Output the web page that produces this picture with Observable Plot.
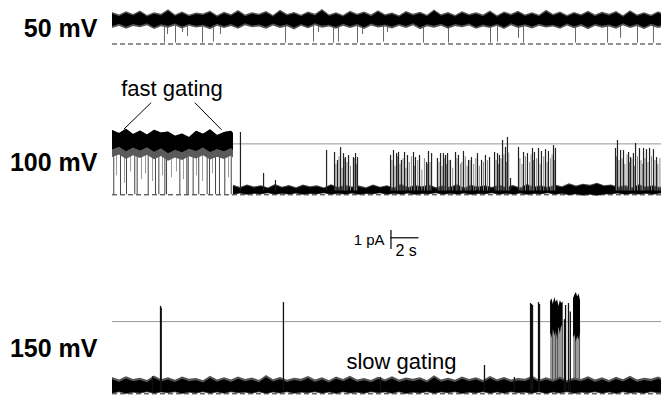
<!DOCTYPE html>
<html><head><meta charset="utf-8">
<script src="https://cdn.jsdelivr.net/npm/d3@7"></script>
<script src="https://cdn.jsdelivr.net/npm/@observablehq/plot@0.6"></script>
<style>
html,body{margin:0;padding:0;background:#fff;overflow:hidden;}
#chart{width:661px;height:397px;overflow:hidden;}
#chart svg{display:block;overflow:hidden;}
</style></head><body><div id="chart"></div>
<script>
// ===== DATA (time in s, current in pA) =====
const voltageLabels = ["50 mV", "100 mV", "150 mV"];
const openLevel100 = 2.68, openLevel150 = 3.8;

// 50 mV: open-state noise band edges (every 0.5 s from 0 s), closures
const band50Hi = [1.58,1.44,1.62,1.47,1.66,1.42,1.57,1.48,1.72,1.45,1.60,1.43,1.55,1.50,1.64,1.41,1.59,1.46,1.68,1.44,
 1.56,1.49,1.63,1.42,1.70,1.47,1.58,1.43,1.61,1.48,1.74,1.45,1.57,1.42,1.65,1.49,1.60,1.44,1.67,1.46,
 1.55,1.41,1.63,1.48,1.59,1.43,1.71,1.46,1.58,1.42,1.62,1.47,1.56,1.44,1.66,1.41,1.60,1.48,1.64,1.45,
 1.57,1.43,1.69,1.47,1.61,1.42,1.58,1.46,1.65,1.44,1.59,1.48,1.63,1.41,1.67,1.45,1.56,1.43,1.62,1.47];
const band50Lo = [0.92,1.04,0.88,1.02,0.95,1.06,0.86,1.01,0.93,1.05,0.89,1.03,0.94,0.99,0.85,1.04,0.91,1.02,0.87,1.06,
 0.95,1.00,0.88,1.05,0.92,1.01,0.84,1.03,0.90,1.06,0.93,0.99,0.87,1.04,0.91,1.02,0.86,1.05,0.94,1.00,
 0.89,1.03,0.92,1.06,0.85,1.01,0.93,1.04,0.88,1.02,0.95,1.05,0.87,1.00,0.91,1.03,0.86,1.06,0.92,1.01,
 0.89,1.04,0.94,0.99,0.87,1.05,0.90,1.02,0.85,1.03,0.93,1.00,0.88,1.06,0.91,1.02,0.86,1.04,0.92,1.01];
const closure50T = [3.71,3.93,4.5,5.0,5.36,6.43,7.21,7.71,12.36,14.36,14.71,15.79,16.14,17.5,17.86,19.36,19.64,22.21,24.0,27.0,27.5,29.0,29.36,33.07,35.36,36.29,37.5,38.64];
const closure50Min = [0.05,0.5,0.05,0.6,0.4,0.05,0.1,0.5,0.05,0.1,0.6,0.05,0.1,0.05,0.5,0.1,0.6,0.05,0.05,0.05,0.1,0.3,0.05,0.05,0.05,0.3,0.05,0.05];

// 100 mV: fast gating band (0 - 8.64 s), then mostly closed band with bursts
const fastEnd100 = 8.64;
const fastBand100Hi = [3.38,3.22,3.45,3.18,3.36,3.15,3.40,3.25,3.30,3.08,3.20,3.02,3.34,3.19,3.42,3.12,3.28,3.35,3.22];
const fastBand100Lo = [2.36,2.50,2.26,2.46,2.31,2.48,2.24,2.42,2.16,2.34,2.21,2.40,2.28,2.46,2.23,2.38,2.26,2.44,2.32];
const fullClosure100T = [0.09,0.57,1.0,1.59,1.76,2.55,3.07,3.31,3.74,3.86,4.81,5.31,5.41,5.76,6.16,6.76,6.93,7.36,7.64,8.02,8.48];
const partialClosure100T = [0.29,0.86,1.29,2.07,2.36,2.86,3.57,4.21,4.57,5.07,6.0,6.43,7.14,8.29];
const partialClosure100Min = [1.0,0.6,1.2,0.8,1.1,0.7,1.0,0.9,1.2,0.8,1.0,0.7,1.1,0.9];
const closedBand100Hi = [0.44,0.32,0.46,0.35,0.42,0.30,0.48,0.34,0.43,0.31,0.45,0.36,0.41,0.30,0.47,0.33,0.44,0.35,0.40,0.31,
 0.46,0.34,0.42,0.30,0.49,0.33,0.43,0.36,0.45,0.31,0.41,0.34,0.47,0.30,0.44,0.35,0.42,0.32,0.46,0.33,
 0.43,0.30,0.48,0.35,0.41,0.33,0.45,0.36,0.52,0.40,0.50,0.44,0.55,0.42,0.46,0.34,0.43,0.31,0.47,0.35,0.42,0.33,0.45];
const closedBand100Lo = [0.02,0.07,0.00,0.06,0.03,0.08,0.01,0.06,0.02,0.07,0.00,0.05,0.03,0.08,0.01,0.06,0.02,0.07,0.00,0.05,
 0.03,0.08,0.01,0.06,0.02,0.07,0.00,0.05,0.03,0.08,0.01,0.06,0.02,0.07,0.00,0.05,0.03,0.08,0.01,0.06,
 0.02,0.07,0.00,0.05,0.03,0.08,0.01,0.06,-0.02,0.03,-0.04,0.01,-0.05,0.02,0.03,0.07,0.00,0.05,0.02,0.06,0.01,0.07,0.03];
const opening100T = [9.14,10.79,11.64,15.29, 15.86,16.07,16.29,16.5,16.64,16.86,17.21,17.36,17.5,
 19.86,20.07,20.29,20.43,20.64,20.86,21.07,21.5,21.64,21.93,22.43,22.57,22.79,
 23.21,23.43,23.64,23.79,23.93,24.14,24.5,24.71,25.07,25.43,25.64,26.07,26.36,26.64,26.93,
 27.29,27.5,27.64,27.86,28.07,28.21,28.43, 29.0,29.36,29.64,30.0,30.14,30.43,30.64,30.93,31.14,31.5,31.64,
 35.93,36.07,36.29,36.5,36.86,37.0,37.21,37.36,37.64,37.93,38.14,38.36,38.64,38.86];
const opening100Peak = [3.28,1.12,0.75,2.33, 2.23,1.81,2.49,2.17,1.96,2.07,1.96,2.17,1.96,
 2.07,2.33,2.17,2.23,1.81,2.23,2.07,2.23,1.96,2.07,1.7,2.28,2.17,
 1.91,2.17,2.17,2.07,2.17,1.81,2.23,2.07,2.28,1.81,1.96,2.17,1.81,2.07,1.96,
 2.23,2.17,2.07,2.86,2.49,3.02,0.86, 2.49,2.23,2.17,2.44,2.23,2.44,2.28,2.38,2.28,2.59,2.44,
 2.44,2.86,2.33,2.33,2.23,1.96,2.17,2.7,2.44,2.44,2.38,2.44,2.38,1.96];
// fainter (briefer) openings inside the bursts
const brief100T = [15.96,16.18,16.4,16.57,16.75,17.0,17.28,17.43,
 19.96,20.18,20.36,20.54,20.75,20.96,21.2,21.35,21.57,21.8,22.1,22.28,22.5,22.68,
 23.32,23.54,23.7,23.86,24.04,24.3,24.6,24.85,24.95,25.2,25.33,25.54,25.8,25.95,26.2,26.5,26.78,
 27.4,27.57,27.75,27.96,28.14,28.3,29.1,29.25,29.5,29.8,29.9,30.07,30.3,30.55,30.8,31.05,31.3,31.4,31.57,
 36.0,36.18,36.4,36.6,36.75,36.93,37.1,37.28,37.5,37.75,37.85,38.03,38.25,38.5,38.75,38.95,39.1];
const brief100Peak = [1.6,2.0,1.4,1.9,1.7,1.5,1.9,1.6,
 1.8,1.5,2.0,1.6,1.9,1.4,1.7,2.0,1.5,1.8,1.3,1.9,1.6,1.7,
 1.7,1.5,1.9,1.6,1.8,1.4,1.9,1.6,1.7,2.0,1.5,1.8,1.6,1.9,1.5,1.7,1.8,
 1.8,1.6,1.9,2.1,1.7,2.2,1.9,1.6,2.0,1.7,2.1,1.8,1.9,1.6,2.0,1.7,1.9,2.1,1.8,
 2.0,1.8,1.9,1.6,2.1,1.7,1.9,1.5,2.0,1.8,1.6,1.9,1.7,2.0,1.8,1.6,1.9];

// 150 mV: closed-state band, brief openings, slow-gating burst
const band150Hi = [0.74,0.60,0.78,0.63,0.70,0.58,0.82,0.62,0.72,0.59,0.76,0.64,0.69,0.57,0.80,0.61,0.73,0.60,0.77,0.63,
 0.71,0.58,0.84,0.62,0.74,0.59,0.70,0.64,0.79,0.60,0.72,0.57,0.76,0.63,0.81,0.61,0.69,0.58,0.75,0.62,
 0.78,0.60,0.71,0.64,0.73,0.57,0.83,0.61,0.70,0.59,0.77,0.63,0.72,0.58,0.79,0.62,0.74,0.60,0.68,0.64,
 0.80,0.59,0.73,0.61,0.76,0.57,0.71,0.63,0.78,0.60,0.72,0.58,0.75,0.62,0.81,0.60,0.70,0.64,0.77,0.61];
const band150Lo = [0.02,0.09,0.00,0.07,0.03,0.10,0.01,0.08,0.04,0.09,0.00,0.07,0.03,0.10,0.02,0.08,0.01,0.09,0.04,0.07,
 0.02,0.10,0.00,0.08,0.03,0.09,0.01,0.07,0.04,0.10,0.02,0.08,0.00,0.09,0.03,0.07,0.01,0.10,0.04,0.08,
 0.02,0.09,0.00,0.07,0.03,0.10,0.01,0.08,0.04,0.09,0.00,0.07,0.03,0.10,0.02,0.08,0.01,0.09,0.04,0.07,
 0.02,0.10,0.00,0.08,0.03,0.09,0.01,0.07,0.04,0.10,0.02,0.08,0.00,0.09,0.03,0.07,0.01,0.10,0.04,0.08];
const opening150T = [2.86,3.43,3.48,12.21,19.14,26.57,28.71,29.86,29.93,30.0,30.43,30.5,32.28,32.36,32.57,32.7];
const opening150Peak = [0.9,4.6,4.5,4.8,0.86,1.49,0.86,4.75,4.7,4.65,4.8,4.7,3.9,4.65,4.75,4.3];
// burst segments: start time, then band edges every 0.1 s
const burst150Start = [31.29, 32.93];
const burst150Hi = [[4.85,5.0,4.7,5.07,4.8,4.95,4.6,4.9,4.75,4.85], [5.0,5.2,5.33,5.1,5.25,4.9]];
const burst150Lo = [[3.2,2.9,3.4,3.0,3.3,2.8,3.5,3.1,3.6,3.3], [2.9,3.1,2.7,3.0,2.8,3.2]];
const burstClosure150T = [31.43,31.64,31.79,32.14,33.07,33.36];

// scale bar
const scaleBarSeconds = 2, scaleBarPA = 1;

// ===== LAYOUT =====
const W = 661, T0 = -8, T1 = 39.214, PX_PER_PA = 19;
const FONT = "'Liberation Sans', Arial, Helvetica, sans-serif";

function band(start, step, end, hi, lo) {
  return hi.map((h, i) => ({t: Math.min(start + i * step, end), hi: h, lo: lo[i]}));
}
function panel(height, zeroFromTop, marks) {
  return Plot.plot({
    width: W, height, margin: 0,
    x: {domain: [T0, T1], axis: null},
    y: {domain: [(zeroFromTop - height) / PX_PER_PA, zeroFromTop / PX_PER_PA], axis: null},
    style: {fontFamily: FONT, background: "white", color: "black"},
    marks
  });
}
const baseline = () => Plot.ruleY([0], {x1: 0, x2: T1, stroke: "#222", strokeDasharray: "5,3"});
const openLine = (v) => Plot.ruleY([v], {x1: 0, x2: T1, stroke: "#999", strokeWidth: 1});
const label = (s, v) => Plot.text([{t: -1.07, v, s}], {x: "t", y: "v", text: "s", textAnchor: "end",
  lineAnchor: "middle", fontSize: 25, fontWeight: "bold", fill: "#000"});
const fringe = (data, up, down, fill) => Plot.area(data, {x1: "t", y1: d => d.lo - down, y2: d => d.hi + up, fill});
const core = (data) => Plot.area(data, {x1: "t", y1: "lo", y2: "hi", fill: "#000"});

// ----- 50 mV -----
const b50 = band(0, 0.5, 39.5, band50Hi, band50Lo);
const c50 = closure50T.map((t, i) => ({t, min: closure50Min[i]}));
const p1 = panel(52, 43.5, [
  baseline(),
  Plot.ruleX(c50, {x: "t", y1: "min", y2: 1.2, stroke: "#666"}),
  fringe(b50, 0.08, 0.1, "#555"),
  core(b50),
  label(voltageLabels[0], 0.79)
]);

// ----- 100 mV -----
const fast = band(0, 0.5, fastEnd100, fastBand100Hi, fastBand100Lo);
const closed = band(fastEnd100, 0.5, 39.5, closedBand100Hi, closedBand100Lo);
const full = fullClosure100T.map(t => ({t}));
const part = partialClosure100T.map((t, i) => ({t, min: partialClosure100Min[i]}));
const op100 = opening100T.map((t, i) => ({t, peak: opening100Peak[i]}));
const br100 = brief100T.map((t, i) => ({t, peak: brief100Peak[i]}));
const p2 = panel(160, 142.3, [
  baseline(),
  openLine(openLevel100),
  Plot.ruleX(full, {x: "t", y1: 0, y2: openLevel100, stroke: "#444"}),
  Plot.ruleX(part, {x: "t", y1: "min", y2: openLevel100, stroke: "#999"}),
  fringe(fast, 0.0, 0.4, "#5a5a5a"),
  core(fast),
  fringe(closed, 0.06, 0.03, "#444"),
  core(closed),
  Plot.ruleX(br100, {x: "t", y1: 0.2, y2: "peak", stroke: "#888", strokeWidth: 1}),
  Plot.ruleX(op100, {x: "t", y1: 0.2, y2: "peak", stroke: "#222", strokeWidth: 1.2}),
  Plot.text([{t: 4.25, v: 5.59, s: "fast gating"}], {x: "t", y: "v", text: "s", fontSize: 22, lineAnchor: "middle", fill: "#000"}),
  Plot.link([{a: 2.76, b: 4.85, c: 0.81, d: 3.45}, {a: 5.88, b: 4.85, c: 7.79, d: 3.42}],
    {x1: "a", y1: "b", x2: "c", y2: "d", stroke: "#000", strokeWidth: 1}),
  label(voltageLabels[1], 1.70)
]);

// ----- scale bar -----
const barT = 19.89, barV = 0.616;
const p3 = panel(56, 37, [
  Plot.ruleX([barT], {y1: 0, y2: scaleBarPA, stroke: "#000", strokeWidth: 1.2}),
  Plot.ruleY([barV], {x1: barT, x2: barT + scaleBarSeconds, stroke: "#000", strokeWidth: 1.2}),
  Plot.text([{t: 19.43, v: 0.47, s: `${scaleBarPA} pA`}], {x: "t", y: "v", text: "s", textAnchor: "end", lineAnchor: "middle", fontSize: 15, fill: "#000"}),
  Plot.text([{t: 20.21, v: -0.05, s: `${scaleBarSeconds} s`}], {x: "t", y: "v", text: "s", textAnchor: "start", lineAnchor: "middle", fontSize: 16, fill: "#000"})
]);

// ----- 150 mV -----
const b150 = band(0, 0.5, 39.5, band150Hi, band150Lo);
const op150 = opening150T.map((t, i) => ({t, peak: opening150Peak[i]}));
const bursts = burst150Start.flatMap((s, k) => band(s, 0.1, Infinity, burst150Hi[k], burst150Lo[k]).map(d => ({...d, k})));
const bcl = burstClosure150T.map(t => ({t}));
const p4 = panel(129, 125.3, [
  baseline(),
  openLine(openLevel150),
  Plot.area(bursts, {x1: "t", y1: 0.6, y2: "lo", z: "k", fill: "#9a9a9a"}),
  Plot.ruleX(bcl, {x: "t", y1: 0, y2: 3.4, stroke: "#555"}),
  fringe(b150, 0.12, 0.04, "#555"),
  core(b150),
  Plot.area(bursts, {x1: "t", y1: "lo", y2: "hi", z: "k", fill: "#000"}),
  Plot.ruleX(op150, {x: "t", y1: 0.1, y2: "peak", stroke: "#111", strokeWidth: 1.3}),
  Plot.text([{t: 16.71, v: 1.65, s: "slow gating"}], {x: "t", y: "v", text: "s", textAnchor: "start", fontSize: 22, lineAnchor: "middle", fill: "#000"}),
  label(voltageLabels[2], 2.38)
]);

const root = document.getElementById("chart");
[p1, p2, p3, p4].forEach(p => root.appendChild(p));
</script>
</body></html>
